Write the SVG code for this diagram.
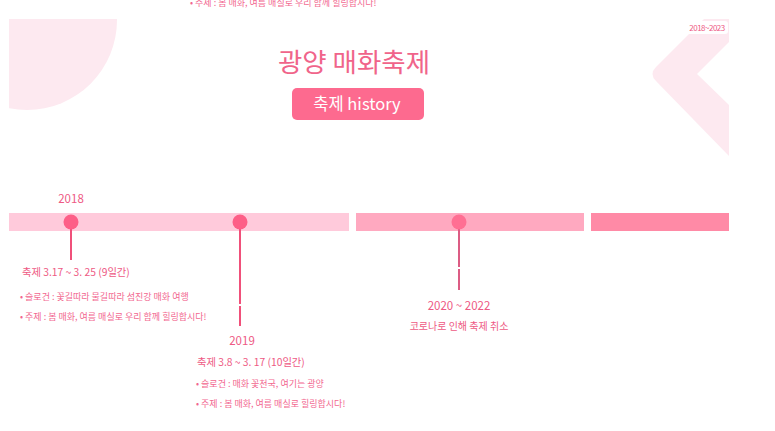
<svg xmlns="http://www.w3.org/2000/svg" width="775" height="431" viewBox="0 0 775 431">
<style>
text{font-family:"Noto Sans CJK KR","Noto Sans",sans-serif;fill:#ee5a84}
.yr{font-size:11.5px;text-anchor:middle}
.hd{font-size:10.3px}
.bl{font-size:9px;fill:#f2678f}
.stem{stroke:#f0507a;stroke-width:2}
.dot{fill:#fd5f87}
</style>
<defs>
<clipPath id="cl"><rect x="9" y="19" width="720" height="150"/></clipPath>
</defs>
<g id="background">
<g clip-path="url(#cl)">
<circle cx="27" cy="20" r="90" fill="#fde9f0"/>
<path d="M729,19 L704,19 L656,67 Q649,74 656,81 L729,156 L729,105 L697,74 L729,42 Z" fill="#fde9f0"/>
</g>
<rect x="686" y="21" width="42" height="13" rx="3" fill="#fff"/>
<text x="707" y="31" style="font-size:8px;text-anchor:middle;letter-spacing:-0.5px">2018~2023</text>
<text x="190" y="6" class="bl">• 주제 : 봄 매화, 여름 매실로 우리 함께 힐링합시다!</text>
</g>
<g id="title">
<text x="354" y="72" style="font-size:26.5px;text-anchor:middle;fill:#f0648a">광양 매화축제</text>
</g>
<g id="history-button">
<rect x="292" y="88" width="132" height="32" rx="5" fill="#fd6a8f"/>
<text x="357" y="110" style="font-size:16.5px;text-anchor:middle;fill:#fff">축제 history</text>
</g>
<g id="timeline-bar">
<rect x="9" y="213" width="340" height="18" fill="#ffcadb"/>
<rect x="356" y="213" width="228" height="18" fill="#ffa9c0"/>
<rect x="591" y="213" width="138" height="18" fill="#ff8aa6"/>
</g>
<g id="connectors">
<line class="stem" x1="71" y1="222" x2="71" y2="260"/>
<line class="stem" x1="240" y1="222" x2="240" y2="304"/>
<line class="stem" x1="240" y1="306" x2="240" y2="326"/>
<line x1="459" y1="222" x2="459" y2="267" stroke="#dc5c84" stroke-width="2"/>
<line x1="459" y1="269" x2="459" y2="290" stroke="#dc5c84" stroke-width="2"/>
</g>
<g id="node-2018">
<circle class="dot" cx="71" cy="222" r="7.5"/>
<text class="yr" x="71" y="203">2018</text>
<text class="hd" x="22" y="276">축제 3.17 ~ 3. 25 (9일간)</text>
<text class="bl" x="20" y="300">• 슬로건 : 꽃길따라 물길따라 섬진강 매화 여행</text>
<text class="bl" x="20" y="320">• 주제 : 봄 매화, 여름 매실로 우리 함께 힐링합시다!</text>
</g>
<g id="node-2019">
<circle class="dot" cx="240" cy="222" r="7.5"/>
<text class="yr" x="242" y="345">2019</text>
<text class="hd" x="197" y="366">축제 3.8 ~ 3. 17 (10일간)</text>
<text class="bl" x="196" y="387">• 슬로건 : 매화 꽃천국, 여기는 광양</text>
<text class="bl" x="196" y="407">• 주제 : 봄 매화, 여름 매실로 힐링합시다!</text>
</g>
<g id="node-2020">
<circle cx="459" cy="222" r="7.5" fill="#ff6f93"/>
<text class="yr" x="459" y="310">2020 ~ 2022</text>
<text x="459" y="330" style="font-size:10px;text-anchor:middle">코로나로 인해 축제 취소</text>
</g>
</svg>
